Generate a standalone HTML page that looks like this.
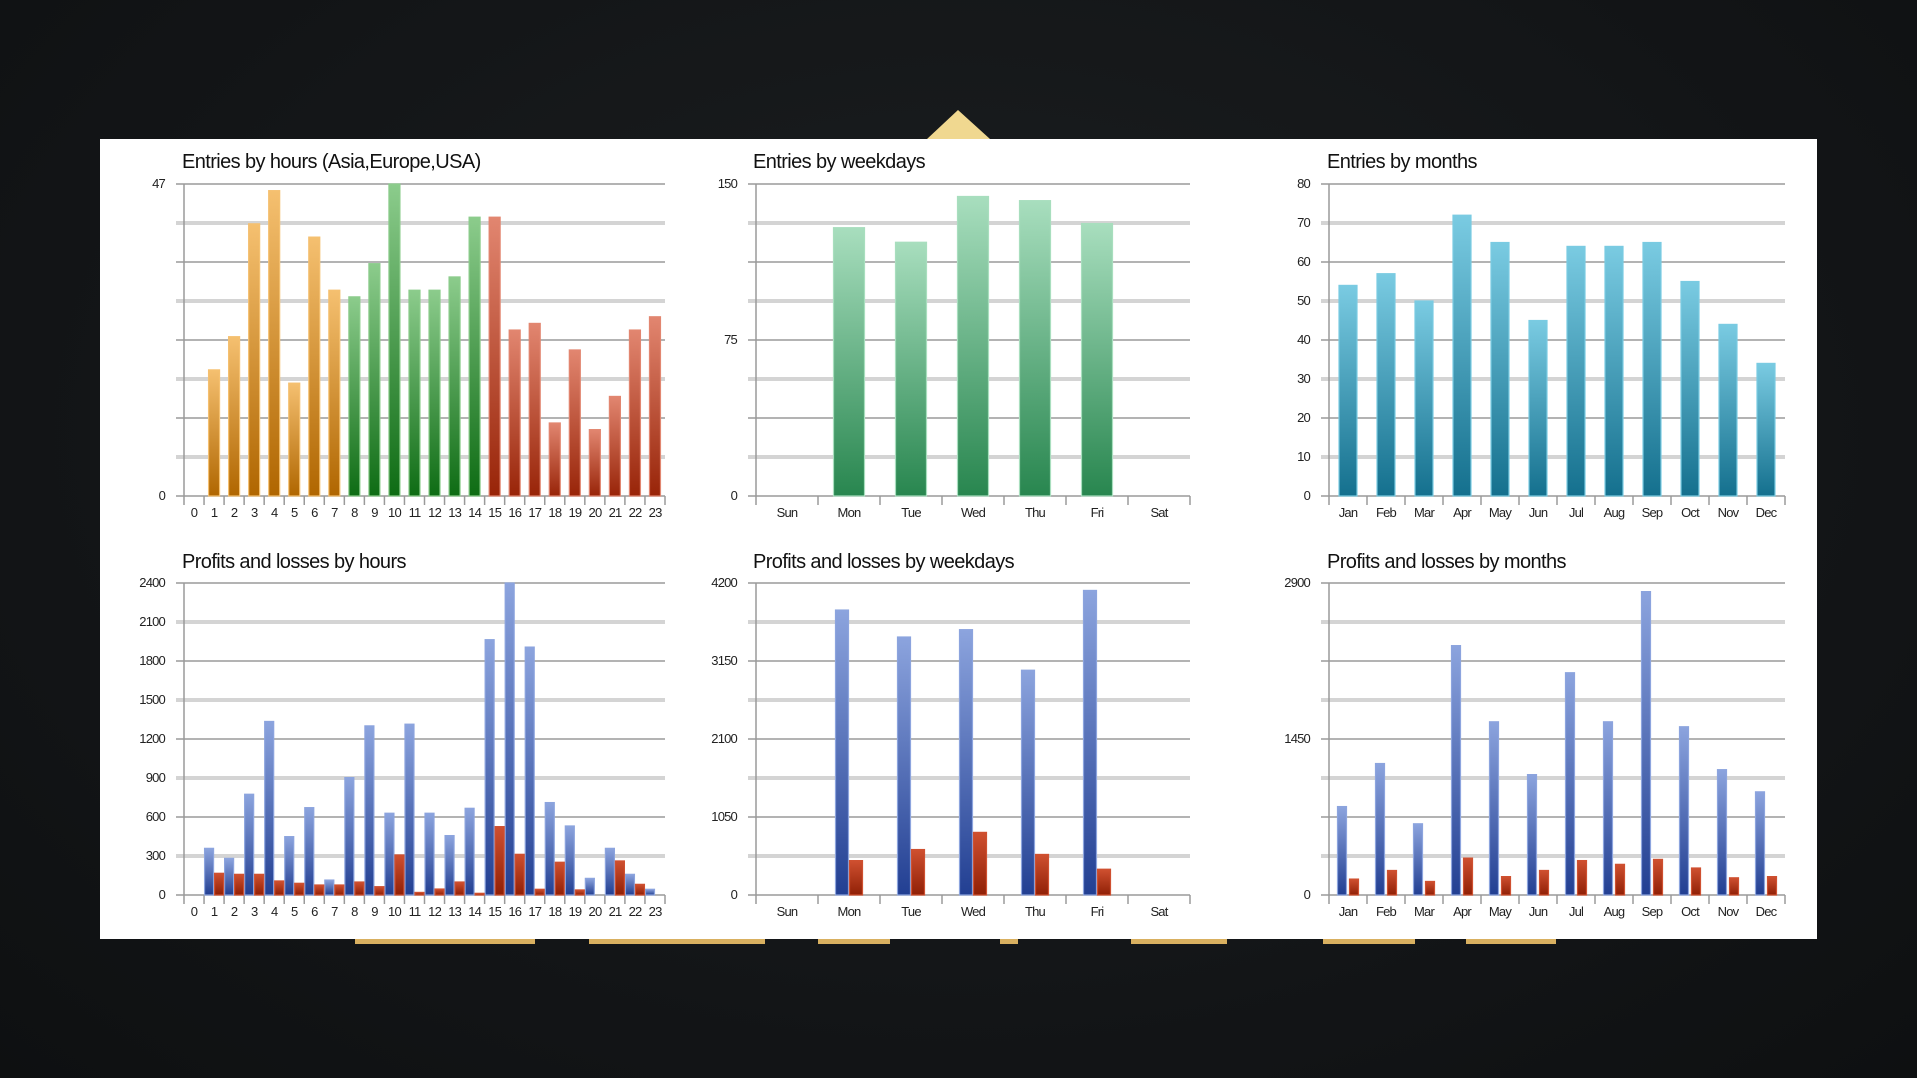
<!DOCTYPE html>
<html><head><meta charset="utf-8">
<style>
html,body{margin:0;padding:0}
body{width:1917px;height:1078px;background:radial-gradient(ellipse at 50% 40%,#1c1f21 0%,#121416 70%,#0e1011 100%);position:relative;overflow:hidden;font-family:"Liberation Sans",sans-serif;color:#111}
.panel{position:absolute;left:100px;top:139px;width:1717px;height:800px;background:#fff}
.title{position:absolute;font-size:20px;letter-spacing:-0.6px;color:#111;white-space:nowrap;line-height:20px}
.xl{position:absolute;display:flex;font-size:13px;letter-spacing:-0.8px;color:#222;line-height:14px}
.xl span{flex:1;text-align:center}
.yl{position:absolute;font-size:13px;letter-spacing:-0.8px;color:#222;text-align:right;width:50px;line-height:14px}
svg{position:absolute}
.ybar{position:absolute;background:#d9b060;height:5px;top:939px}
</style></head><body>
<svg style="left:0;top:0" width="1917" height="1078"><polygon points="927,139 958,110 990,139" fill="#f0d890"/></svg>
<div class="panel"></div>
<div class="ybar" style="left:355px;width:180px"></div>
<div class="ybar" style="left:589px;width:176px"></div>
<div class="ybar" style="left:818px;width:72px"></div>
<div class="ybar" style="left:1000px;width:18px"></div>
<div class="ybar" style="left:1131px;width:96px"></div>
<div class="ybar" style="left:1323px;width:92px"></div>
<div class="ybar" style="left:1466px;width:90px"></div>

<div class="title" style="left:182px;top:152px">Entries by hours (Asia,Europe,USA)</div>
<div class="title" style="left:753px;top:152px">Entries by weekdays</div>
<div class="title" style="left:1327px;top:152px">Entries by months</div>
<div class="title" style="left:182px;top:552px">Profits and losses by hours</div>
<div class="title" style="left:753px;top:552px">Profits and losses by weekdays</div>
<div class="title" style="left:1327px;top:552px">Profits and losses by months</div>

<svg id="c1" style="left:170px;top:176px" width="510" height="340"></svg>
<svg id="c2" style="left:742px;top:176px" width="465" height="340"></svg>
<svg id="c3" style="left:1315px;top:176px" width="485" height="340"></svg>
<svg id="c4" style="left:170px;top:575px" width="510" height="340"></svg>
<svg id="c5" style="left:742px;top:575px" width="465" height="340"></svg>
<svg id="c6" style="left:1315px;top:575px" width="485" height="340"></svg>

<div class="yl" style="left:115px;top:177px">47</div>
<div class="yl" style="left:115px;top:489px">0</div>

<div class="yl" style="left:687px;top:177px">150</div>
<div class="yl" style="left:687px;top:333px">75</div>
<div class="yl" style="left:687px;top:489px">0</div>

<div class="yl" style="left:1260px;top:177px">80</div>
<div class="yl" style="left:1260px;top:216px">70</div>
<div class="yl" style="left:1260px;top:255px">60</div>
<div class="yl" style="left:1260px;top:294px">50</div>
<div class="yl" style="left:1260px;top:333px">40</div>
<div class="yl" style="left:1260px;top:372px">30</div>
<div class="yl" style="left:1260px;top:411px">20</div>
<div class="yl" style="left:1260px;top:450px">10</div>
<div class="yl" style="left:1260px;top:489px">0</div>

<div class="yl" style="left:115px;top:576px">2400</div>
<div class="yl" style="left:115px;top:615px">2100</div>
<div class="yl" style="left:115px;top:654px">1800</div>
<div class="yl" style="left:115px;top:693px">1500</div>
<div class="yl" style="left:115px;top:732px">1200</div>
<div class="yl" style="left:115px;top:771px">900</div>
<div class="yl" style="left:115px;top:810px">600</div>
<div class="yl" style="left:115px;top:849px">300</div>
<div class="yl" style="left:115px;top:888px">0</div>

<div class="yl" style="left:687px;top:576px">4200</div>
<div class="yl" style="left:687px;top:654px">3150</div>
<div class="yl" style="left:687px;top:732px">2100</div>
<div class="yl" style="left:687px;top:810px">1050</div>
<div class="yl" style="left:687px;top:888px">0</div>

<div class="yl" style="left:1260px;top:576px">2900</div>
<div class="yl" style="left:1260px;top:732px">1450</div>
<div class="yl" style="left:1260px;top:888px">0</div>

<div class="xl" style="left:184px;top:506px;width:481px"><span>0</span><span>1</span><span>2</span><span>3</span><span>4</span><span>5</span><span>6</span><span>7</span><span>8</span><span>9</span><span>10</span><span>11</span><span>12</span><span>13</span><span>14</span><span>15</span><span>16</span><span>17</span><span>18</span><span>19</span><span>20</span><span>21</span><span>22</span><span>23</span></div>
<div class="xl" style="left:756px;top:506px;width:434px"><span>Sun</span><span>Mon</span><span>Tue</span><span>Wed</span><span>Thu</span><span>Fri</span><span>Sat</span></div>
<div class="xl" style="left:1329px;top:506px;width:456px"><span>Jan</span><span>Feb</span><span>Mar</span><span>Apr</span><span>May</span><span>Jun</span><span>Jul</span><span>Aug</span><span>Sep</span><span>Oct</span><span>Nov</span><span>Dec</span></div>
<div class="xl" style="left:184px;top:905px;width:481px"><span>0</span><span>1</span><span>2</span><span>3</span><span>4</span><span>5</span><span>6</span><span>7</span><span>8</span><span>9</span><span>10</span><span>11</span><span>12</span><span>13</span><span>14</span><span>15</span><span>16</span><span>17</span><span>18</span><span>19</span><span>20</span><span>21</span><span>22</span><span>23</span></div>
<div class="xl" style="left:756px;top:905px;width:434px"><span>Sun</span><span>Mon</span><span>Tue</span><span>Wed</span><span>Thu</span><span>Fri</span><span>Sat</span></div>
<div class="xl" style="left:1329px;top:905px;width:456px"><span>Jan</span><span>Feb</span><span>Mar</span><span>Apr</span><span>May</span><span>Jun</span><span>Jul</span><span>Aug</span><span>Sep</span><span>Oct</span><span>Nov</span><span>Dec</span></div>

<script>
const G={o:['#f5c070','#b06600'],g:['#8ccc8c','#0e6c14'],r:['#e28670','#982408'],t:['#a8debe','#28864f'],m:['#7acbe2','#14708e'],b:['#8ca4de','#223f92'],d:['#cf5030','#902006']};
const NS='http://www.w3.org/2000/svg';
function el(p,t,a){const e=document.createElementNS(NS,t);for(const k in a)e.setAttribute(k,a[k]);p.appendChild(e);return e;}
function chart(id,ox,oy,w,n,max,series){
 const s=document.getElementById(id);const H=312;
 const defs=el(s,'defs',{});
 for(const k in G){const lg=el(defs,'linearGradient',{id:id+k,x1:0,y1:0,x2:0,y2:1});el(lg,'stop',{offset:0,'stop-color':G[k][0]});el(lg,'stop',{offset:1,'stop-color':G[k][1]});}
 for(let j=0;j<=8;j++){const y=oy+H*j/8;
  if(j%2==1) el(s,'line',{x1:ox-8,x2:ox+w,y1:y,y2:y,stroke:'#d4d4d4','stroke-width':4});
  else el(s,'line',{x1:ox-8,x2:ox+w,y1:y,y2:y,stroke:'#9a9a9a','stroke-width':1.5});}
 el(s,'line',{x1:ox,x2:ox,y1:oy,y2:oy+H+9,stroke:'#9a9a9a','stroke-width':1.5});
 for(let i=1;i<=n;i++){const x=ox+w*i/n;el(s,'line',{x1:x,x2:x,y1:oy+H,y2:oy+H+9,stroke:'#9a9a9a','stroke-width':1.5});}
 const sw=w/n;
 series.forEach(se=>{se.v.forEach((v,i)=>{if(!v)return;const h=H*v/max;const cx=ox+(i+0.5)*sw+se.off;
  const c=typeof se.c=='function'?se.c(i):se.c;
  el(s,'rect',{x:cx-se.bw/2,y:oy+H-h,width:se.bw,height:h,fill:'url(#'+id+c+')',stroke:G[c][0],'stroke-width':1.2});});});
}
chart('c1',14,8,481,24,47,[{v:[0,19,24,41,46,17,39,31,30,35,47,31,31,33,42,42,25,26,11,22,10,15,25,27],c:i=>i<8?'o':i<15?'g':'r',bw:11,off:0}]);
chart('c2',14,8,434,7,150,[{v:[0,129,122,144,142,131,0],c:'t',bw:31,off:0}]);
chart('c3',14,8,456,12,80,[{v:[54,57,50,72,65,45,64,64,65,55,44,34],c:'m',bw:18,off:0}]);
chart('c4',14,8,481,24,2400,[{v:[0,359,282,775,1335,449,672,115,903,1301,629,1314,629,457,667,1964,2400,1907,711,531,128,359,159,44],c:'b',bw:9,off:-5},{v:[0,167,159,159,108,90,77,77,100,64,308,20,46,100,13,526,313,44,252,39,0,262,82,0],c:'d',bw:9,off:5}]);
chart('c5',14,8,434,7,4200,[{v:[0,3836,3473,3572,3026,4100,0],c:'b',bw:13,off:-7},{v:[0,463,612,843,546,347,0],c:'d',bw:13,off:7}]);
chart('c6',14,8,456,12,2900,[{v:[822,1222,662,2318,1610,1119,2066,1610,2820,1564,1165,959],c:'b',bw:9,off:-6},{v:[148,228,126,343,171,228,320,285,331,251,160,171],c:'d',bw:9,off:6}]);
</script>
</body></html>
